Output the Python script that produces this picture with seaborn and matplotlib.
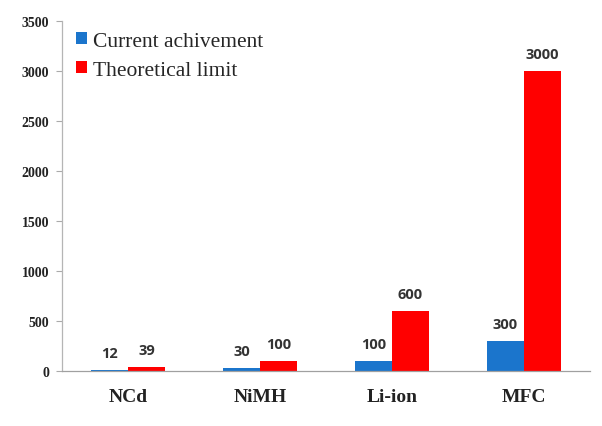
import matplotlib
matplotlib.use("Agg")
import matplotlib.pyplot as plt
from matplotlib.patches import Patch
import seaborn as sns
import pandas as pd
import numpy as np

categories = ["NCd", "NiMH", "Li-ion", "MFC"]
series_names = ["Current achivement", "Theoretical limit"]
current = [12, 30, 100, 300]
theoretical = [39, 100, 600, 3000]
y_ticks = [0, 500, 1000, 1500, 2000, 2500, 3000, 3500]

colors = {"Current achivement": "#1b75cc", "Theoretical limit": "#ff0000"}

df = pd.DataFrame({
    "category": categories * 2,
    "series": [series_names[0]] * 4 + [series_names[1]] * 4,
    "value": current + theoretical,
})

sns.set_style("white")
fig = plt.figure(figsize=(6.02, 4.27), dpi=100)
ax = fig.add_axes([62 / 602, 1 - 372 / 427, 528 / 602, 350 / 427])

sns.barplot(data=df, x="category", y="value", hue="series", order=categories,
            hue_order=series_names, palette=colors, width=0.56, gap=0,
            saturation=1, ax=ax, legend=False, edgecolor="none")

ax.set_xlim(-0.5, 3.5)
ax.set_ylim(0, 3500)
ax.set_yticks(y_ticks)
ax.set_yticklabels([str(t) for t in y_ticks], fontfamily="Liberation Serif",
                   fontweight="bold", fontsize=10, color="#222222")
ax.set_xticks(range(len(categories)))
ax.set_xticklabels(categories, fontfamily="Liberation Serif", fontweight="bold",
                   fontsize=14, color="#222222")
ax.set_xticks(np.arange(-0.5, 4.0, 1.0), minor=True)
ax.tick_params(axis="x", which="major", length=0, pad=12)
ax.tick_params(axis="x", which="minor", length=5, color="#aaaaaa", direction="out", width=0.8)
ax.tick_params(axis="y", length=4, color="#aaaaaa", direction="out", width=0.8, pad=5, left=True)
ax.set_xlabel("")
ax.set_ylabel("")
for s in ["top", "right"]:
    ax.spines[s].set_visible(False)
ax.spines["left"].set_color("#b5b5b5")
ax.spines["bottom"].set_color("#a0a0a0")
ax.spines["left"].set_linewidth(0.9)
ax.spines["bottom"].set_linewidth(0.9)

for container in ax.containers:
    ax.bar_label(container, labels=[f"{int(v)}" for v in container.datavalues],
                 padding=7, fontsize=10.5, fontweight="bold", fontfamily="Open Sans",
                 color="#333333")

handles = [Patch(facecolor=colors[n], edgecolor="none") for n in series_names]
fig.legend(handles, series_names, loc="upper left",
           bbox_to_anchor=(76 / 602, 1 - 33 / 427), frameon=False,
           prop={"family": "Liberation Serif", "size": 15.5},
           handlelength=0.5, handleheight=0.5, handletextpad=0.3,
           labelspacing=0.45, borderpad=0, borderaxespad=0)

fig.savefig("out.png", dpi=100)
